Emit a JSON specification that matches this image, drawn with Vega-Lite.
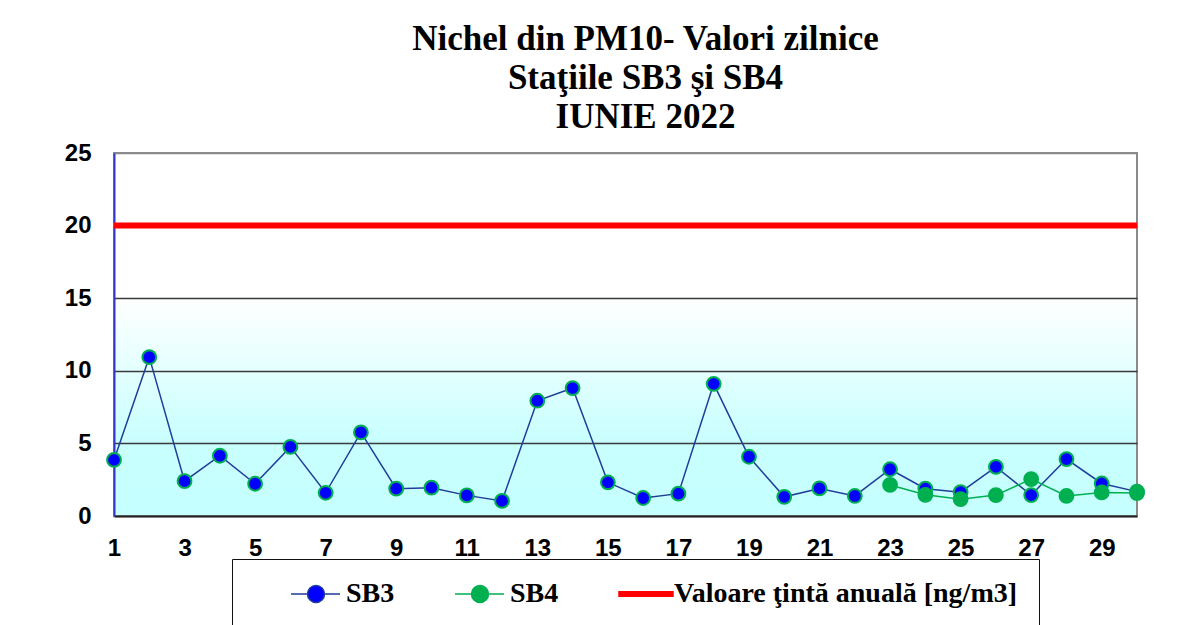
{
  "$schema": "https://vega.github.io/schema/vega-lite/v6.json",
  "width": 1023,
  "height": 363,
  "autosize": {"type": "none"},
  "padding": {"left": 114, "top": 153, "right": 42, "bottom": 109},
  "background": "white",
  "title": {
    "text": ["Nichel din PM10- Valori zilnice", "Staţiile SB3 şi SB4", "IUNIE 2022"],
    "font": "Liberation Serif",
    "fontSize": 35,
    "fontWeight": "bold",
    "color": "black",
    "lineHeight": 39,
    "anchor": "middle",
    "dx": 20,
    "baseline": "alphabetic",
    "offset": -22
  },
  "view": {
    "stroke": "#8a8a8a",
    "strokeWidth": 2,
    "fill": {
      "gradient": "linear",
      "x1": 0, "y1": 0, "x2": 0, "y2": 1,
      "stops": [
        {"offset": 0, "color": "#ffffff"},
        {"offset": 0.4, "color": "#ffffff"},
        {"offset": 0.8, "color": "#c8ffff"},
        {"offset": 1, "color": "#c6ffff"}
      ]
    }
  },
  "config": {
    "axis": {
      "labelFont": "Liberation Sans",
      "labelFontWeight": "bold",
      "labelFontSize": 24,
      "labelColor": "black",
      "ticks": false,
      "title": null,
      "labelFlush": false,
      "labelOverlap": false
    }
  },
  "datasets": {
    "series": [
      {"day": 1, "series": "SB3", "value": 3.86},
      {"day": 2, "series": "SB3", "value": 10.94},
      {"day": 3, "series": "SB3", "value": 2.40},
      {"day": 4, "series": "SB3", "value": 4.15},
      {"day": 5, "series": "SB3", "value": 2.22},
      {"day": 6, "series": "SB3", "value": 4.76},
      {"day": 7, "series": "SB3", "value": 1.60},
      {"day": 8, "series": "SB3", "value": 5.76},
      {"day": 9, "series": "SB3", "value": 1.88},
      {"day": 10, "series": "SB3", "value": 1.95},
      {"day": 11, "series": "SB3", "value": 1.42},
      {"day": 12, "series": "SB3", "value": 1.04},
      {"day": 13, "series": "SB3", "value": 7.94},
      {"day": 14, "series": "SB3", "value": 8.81},
      {"day": 15, "series": "SB3", "value": 2.32},
      {"day": 16, "series": "SB3", "value": 1.24},
      {"day": 17, "series": "SB3", "value": 1.54},
      {"day": 18, "series": "SB3", "value": 9.10},
      {"day": 19, "series": "SB3", "value": 4.08},
      {"day": 20, "series": "SB3", "value": 1.32},
      {"day": 21, "series": "SB3", "value": 1.90},
      {"day": 22, "series": "SB3", "value": 1.38},
      {"day": 23, "series": "SB3", "value": 3.22},
      {"day": 24, "series": "SB3", "value": 1.88},
      {"day": 25, "series": "SB3", "value": 1.64},
      {"day": 26, "series": "SB3", "value": 3.38},
      {"day": 27, "series": "SB3", "value": 1.44},
      {"day": 28, "series": "SB3", "value": 3.92},
      {"day": 29, "series": "SB3", "value": 2.24},
      {"day": 30, "series": "SB3", "value": 1.68},
      {"day": 23, "series": "SB4", "value": 2.14},
      {"day": 24, "series": "SB4", "value": 1.46},
      {"day": 25, "series": "SB4", "value": 1.16},
      {"day": 26, "series": "SB4", "value": 1.44},
      {"day": 27, "series": "SB4", "value": 2.54},
      {"day": 28, "series": "SB4", "value": 1.38},
      {"day": 29, "series": "SB4", "value": 1.62},
      {"day": 30, "series": "SB4", "value": 1.58}
    ],
    "target": [
      {"series": "Valoare ţintă anuală [ng/m3]", "value": 20}
    ]
  },
  "data": {"name": "series"},
  "encoding": {
    "x": {
      "field": "day",
      "type": "quantitative",
      "scale": {"domain": [1, 30], "nice": false, "zero": false},
      "axis": {
        "values": [1, 3, 5, 7, 9, 11, 13, 15, 17, 19, 21, 23, 25, 27, 29],
        "grid": false,
        "labelPadding": 20,
        "domainColor": "#222222",
        "domainWidth": 2
      }
    },
    "y": {
      "field": "value",
      "type": "quantitative",
      "scale": {"domain": [0, 25], "nice": false},
      "axis": {
        "values": [0, 5, 10, 15, 20, 25],
        "grid": true,
        "gridColor": {"condition": {"test": "datum.value === 25 || datum.value === 0", "value": "#8a8a8a"}, "value": "#3a3a3a"},
        "gridWidth": 1.5,
        "labelPadding": 23,
        "domainColor": "#3535d0",
        "domainWidth": 2
      }
    }
  },
  "layer": [
    {
      "data": {"name": "target"},
      "mark": {"type": "rule", "color": "#ff0000", "strokeWidth": 6},
      "encoding": {
        "x": null,
        "y": {"field": "value", "type": "quantitative"}
      }
    },
    {
      "mark": {"type": "line", "strokeWidth": 1.5},
      "encoding": {
        "color": {
          "field": "series",
          "type": "nominal",
          "scale": {
            "domain": ["SB3", "SB4", "Valoare ţintă anuală [ng/m3]"],
            "range": ["#1f3d99", "#00b050", "#ff0000"]
          },
          "legend": {
            "title": null,
            "orient": "none",
            "direction": "horizontal",
            "legendX": 118,
            "legendY": 406,
            "padding": 21,
            "strokeColor": "#111111",
            "fillColor": "white",
            "labelFont": "Liberation Serif",
            "labelFontSize": 28,
            "labelFontWeight": "bold",
            "labelColor": "black",
            "labelLimit": 0,
            "labelOffset": 65,
            "columnPadding": 22,
            "symbolSize": 400,
            "symbolStrokeWidth": 1.5,
            "encode": {
              "symbols": {
                "update": {
                  "shape": {"signal": "datum.value === 'Valoare ţintă anuală [ng/m3]' ? 'M2.4,-0.22H7.8V0.22H2.4Z' : 'M2.4,0H4.05M5.75,0H7.3M4.05,0A0.85,0.85 0 1,1 5.75,0A0.85,0.85 0 1,1 4.05,0Z'"},
                  "fill": {"signal": "datum.value === 'SB3' ? '#0000ff' : datum.value === 'SB4' ? '#00b050' : '#ff0000'"},
                  "stroke": {"signal": "datum.value === 'SB3' ? '#1f3d99' : datum.value === 'SB4' ? '#00b050' : '#ff0000'"}
                }
              }
            }
          }
        }
      }
    },
    {
      "transform": [{"filter": "datum.series === 'SB3'"}],
      "mark": {"type": "point", "filled": true, "fill": "#0000ff", "stroke": "#00b050", "strokeWidth": 2, "size": 190, "opacity": 1}
    },
    {
      "transform": [{"filter": "datum.series === 'SB4'"}],
      "mark": {"type": "point", "filled": true, "fill": "#00b050", "stroke": "#00b050", "strokeWidth": 2, "size": 190, "opacity": 1}
    }
  ]
}
